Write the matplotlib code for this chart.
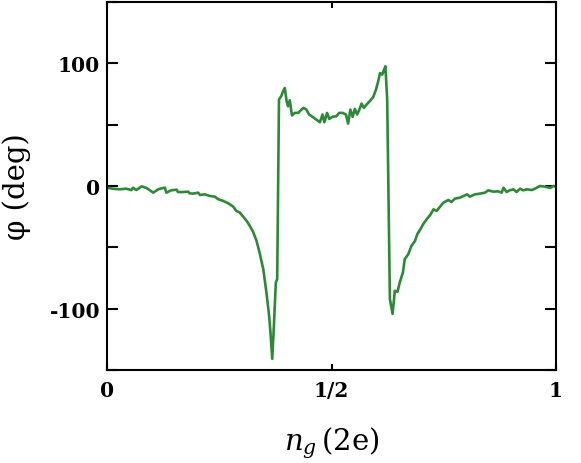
import matplotlib
matplotlib.use("Agg")
import matplotlib.pyplot as plt
from matplotlib.ticker import MultipleLocator

plt.rcParams['axes.unicode_minus'] = False
plt.rcParams['mathtext.fontset'] = 'dejavuserif'

ng = [0.000, 0.013, 0.028, 0.043, 0.054, 0.058, 0.065, 0.077, 0.088, 0.103,
      0.114, 0.125, 0.129, 0.132, 0.143, 0.155, 0.158, 0.169, 0.181, 0.184,
      0.192, 0.203, 0.207, 0.218, 0.229, 0.240, 0.248, 0.259, 0.270, 0.281,
      0.288, 0.296, 0.303, 0.311, 0.318, 0.325, 0.333, 0.340, 0.348, 0.355,
      0.361, 0.364, 0.368, 0.371, 0.376, 0.379, 0.383, 0.388, 0.392, 0.396,
      0.400, 0.403, 0.407, 0.412, 0.418, 0.426, 0.433, 0.438, 0.444, 0.450,
      0.459, 0.466, 0.474, 0.480, 0.484, 0.490, 0.495, 0.502, 0.511, 0.517,
      0.525, 0.532, 0.537, 0.542, 0.547, 0.552, 0.557, 0.562, 0.567, 0.572,
      0.578, 0.585, 0.593, 0.599, 0.604, 0.608, 0.613, 0.617, 0.620, 0.624,
      0.630, 0.636, 0.641, 0.647, 0.652, 0.659, 0.663, 0.671, 0.678, 0.686,
      0.691, 0.698, 0.704, 0.712, 0.721, 0.727, 0.734, 0.742, 0.749, 0.760,
      0.767, 0.775, 0.786, 0.797, 0.802, 0.808, 0.819, 0.831, 0.842, 0.849,
      0.860, 0.871, 0.879, 0.883, 0.890, 0.897, 0.905, 0.912, 0.920, 0.927,
      0.935, 0.946, 0.953, 0.964, 0.975, 0.987, 0.994, 1.000]

phi = [-1.4, -2.2, -2.7, -2.2, -3.3, -1.4, -3.3, -0.3, -1.6, -5.4,
       -2.7, -1.6, -1.4, -5.4, -3.5, -3.0, -4.9, -4.9, -4.6, -6.0,
       -6.2, -5.4, -7.3, -6.8, -8.1, -8.7, -10.8, -12.2, -14.1, -16.8,
       -20.3, -21.7, -24.9, -28.5, -32.5, -37.1, -44.7, -54.7, -67.8, -86.7,
       -105.7, -119.2, -140.9, -119.2, -78.6, -75.9, 70.5, 73.2, 77.2, 79.9,
       69.1, 65.0, 69.9, 57.5, 59.6, 59.6, 62.3, 63.7, 62.3, 58.3,
       56.1, 54.2, 52.0, 58.3, 52.0, 59.6, 54.7, 56.4, 56.9, 59.6,
       59.6, 58.3, 50.9, 62.3, 56.4, 62.9, 58.3, 62.3, 67.2, 63.7,
       66.4, 69.1, 72.6, 78.6, 85.4, 92.1, 90.8, 94.9, 97.6, 70.5,
       -92.1, -104.3, -85.4, -86.2, -78.6, -70.5, -59.6, -55.6, -48.8, -44.7,
       -39.3, -35.2, -31.2, -27.1, -23.0, -19.0, -20.3, -16.8, -13.6, -11.4,
       -13.0, -10.3, -9.5, -7.6, -6.8, -8.7, -6.8, -6.2, -5.4, -3.5,
       -4.6, -4.3, -5.4, -1.4, -4.9, -3.5, -2.7, -4.9, -2.2, -3.5,
       -2.7, -3.3, -2.2, 0.0, -0.5, -1.6, 0.0, -0.5]

xticks = [0, 0.5, 1]
xticklabels = ['0', '1/2', '1']
yticks = [-100, 0, 100]
yticklabels = ['-100', '0', '100']

fig = plt.figure(figsize=(5.81, 4.64), dpi=100)
ax = fig.add_axes([0.1842, 0.2004, 0.7728, 0.7931])

ax.plot(ng, phi, color='#2b8a35', lw=1.9)

ax.set_xlim(0, 1)
ax.set_ylim(-150, 150)
ax.set_xticks(xticks)
ax.set_xticklabels(xticklabels)
ax.set_yticks(yticks)
ax.set_yticklabels(yticklabels)
ax.yaxis.set_minor_locator(MultipleLocator(50))

for s in ax.spines.values():
    s.set_linewidth(1.5)

ax.tick_params(axis='y', which='both', direction='in', length=8, width=1.5,
               left=True, right=True, pad=5)
ax.tick_params(axis='x', which='both', direction='in', length=4.5, width=1.5,
               top=True, bottom=True, pad=7)

for lab in ax.get_xticklabels() + ax.get_yticklabels():
    lab.set_fontfamily('DejaVu Serif')
    lab.set_fontweight('bold')
    lab.set_fontsize(14.5)

ax.set_xlabel(r'$n_g\,$(2e)', fontsize=21, family='DejaVu Serif', labelpad=18)
ax.set_ylabel('φ (deg)', fontsize=21, family='DejaVu Serif', labelpad=13)

fig.savefig('out.png', dpi=100)
